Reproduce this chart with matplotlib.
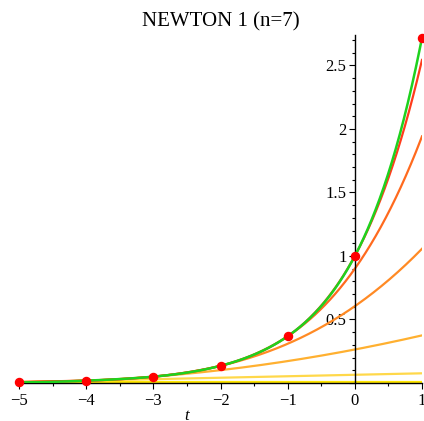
import numpy as np
import matplotlib
matplotlib.use("Agg")
import matplotlib.pyplot as plt
from matplotlib.ticker import MultipleLocator, FuncFormatter

# interpolation nodes and values (red dots)
nodes = [-5, -4, -3, -2, -1, 0, 1]
values = [0.0067, 0.0183, 0.0498, 0.1353, 0.3679, 1.0, 2.7183]

# colour of each partial Newton polynomial P0..P5, then the full one
curve_colors = ["#ffe600", "#ffd84a", "#ffb030", "#ff8a24", "#ff6a1e", "#ff3c1c"]
full_color = "#1ed21e"

plt.rcParams["font.family"] = ["Liberation Serif", "DejaVu Serif"]


def divided_differences(xs, ys):
    coef = list(ys)
    n = len(xs)
    for j in range(1, n):
        for i in range(n - 1, j - 1, -1):
            coef[i] = (coef[i] - coef[i - 1]) / (xs[i] - xs[i - j])
    return coef


def newton_partial(xs, coef, k, t):
    # Newton polynomial using the first k+1 terms
    out = np.zeros_like(t)
    prod = np.ones_like(t)
    for i in range(k + 1):
        out += coef[i] * prod
        prod = prod * (t - xs[i])
    return out


coef = divided_differences(nodes, values)
t = np.linspace(nodes[0], nodes[-1], 400)

fig = plt.figure(figsize=(4.24, 4.21), dpi=100)
ax = fig.add_axes([19 / 424, 38 / 421, 403 / 424, 348 / 421])

for k, c in enumerate(curve_colors):
    ax.plot(t, newton_partial(nodes, coef, k, t), color=c, lw=1.6, zorder=2)
ax.plot(t, newton_partial(nodes, coef, len(nodes) - 1, t), color=full_color, lw=1.8, zorder=3)
ax.plot(nodes, values, "o", color="#ff0000", ms=5.8, zorder=4, clip_on=False)

ax.set_xlim(-5, 1)
ax.set_ylim(0, 2.74)

for s in ["top", "right"]:
    ax.spines[s].set_visible(False)
ax.spines["left"].set_position(("data", 0))
ax.spines["bottom"].set_position(("data", 0))
ax.spines["left"].set_linewidth(1.0)
ax.spines["bottom"].set_linewidth(1.0)

ax.xaxis.set_major_locator(MultipleLocator(1))
ax.xaxis.set_minor_locator(MultipleLocator(0.5))
ax.yaxis.set_major_locator(MultipleLocator(0.5))
ax.yaxis.set_minor_locator(MultipleLocator(0.1))


def fmt(v, pos):
    if abs(v) < 1e-9:
        return "0"
    return ("%g" % v).replace("-", "\u2212")


ax.xaxis.set_major_formatter(FuncFormatter(fmt))
ax.yaxis.set_major_formatter(FuncFormatter(lambda v, p: "" if abs(v) < 1e-9 else "%g" % v))
ax.tick_params(axis="both", which="major", length=4, width=0.8, labelsize=12, direction="out")
ax.tick_params(axis="both", which="minor", length=2.5, width=0.8, direction="out")
ax.tick_params(axis="y", pad=2)
ax.tick_params(axis="x", pad=3)

ax.text(-2.5, -0.26, "t", style="italic", fontsize=12, ha="center", va="center")
ax.set_title("NEWTON 1 (n=7)", fontsize=15, pad=6)

fig.savefig("out.png", dpi=100)
